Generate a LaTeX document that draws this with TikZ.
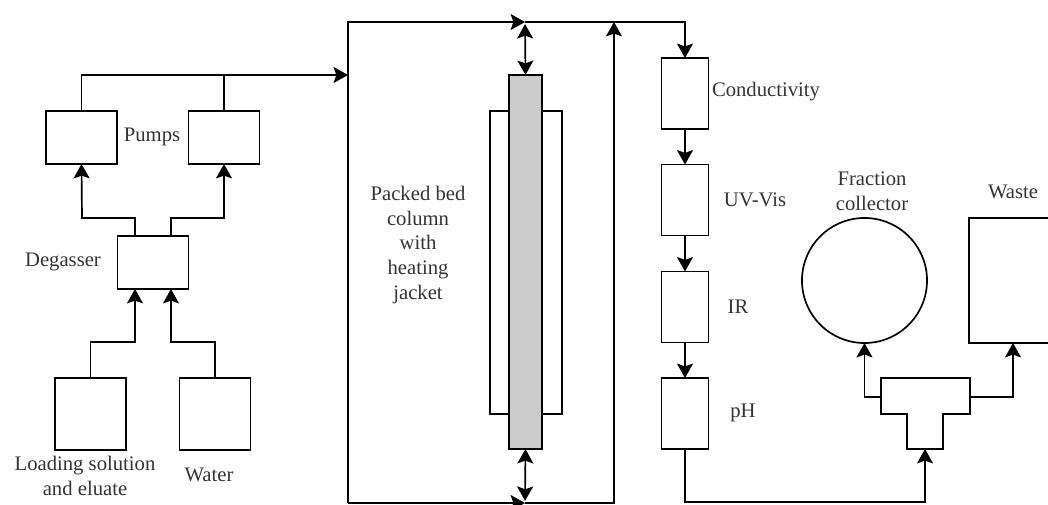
\documentclass[tikz,border=0pt]{standalone}
\usepackage{fontspec}
\setmainfont{Liberation Serif}
\usetikzlibrary{arrows.meta, positioning}
\definecolor{labeltext}{HTML}{333333}
\definecolor{colfill}{HTML}{CCCCCC}

\begin{document}
\begin{tikzpicture}[
      x=0.025cm, y=-0.025cm,
      every node/.style={text=labeltext, font=\fontsize{14.7}{17.7}\selectfont},
      box/.style={draw, line width=1.2pt, inner sep=0pt, outer sep=0pt},
      pump/.style={box, minimum width=1.775cm, minimum height=1.325cm},
      tank/.style={box, minimum width=1.775cm, minimum height=1.8cm},
      detector/.style={box, minimum width=1.175cm, minimum height=1.775cm},
      lbl/.style={align=center, inner sep=0pt},
      line/.style={line width=1.2pt},
      arr/.style={line, -{Stealth[length=3.6mm, width=4mm, inset=0.7mm]}},
      dbl/.style={line, {Stealth[length=3.6mm, width=4mm, inset=0.7mm]}-{Stealth[length=3.6mm, width=4mm, inset=0.7mm]}}
    ]
    \useasboundingbox (0,0) rectangle (1048,505);

    % feed side
    \node[pump] (pump1) at (81.5,137.5) {};
    \node[pump] (pump2) at (224,137.5) {};
    \node[pump] (degas) at (153,262.5) {};
    \node[tank] (load)  at (90.5,414) {};
    \node[tank] (water) at (215,414) {};
    \node[lbl] (lpumps) at (152,137) {Pumps};
    \node[lbl] (ldegas) at (63,262) {Degasser};
    \node[lbl] (lload)  at (85,476) {Loading solution\\and eluate};
    \node[lbl] (lwater) at (209,475) {Water};

    \coordinate (degl) at (135,289);
    \coordinate (degr) at (171,289);
    \draw[arr] (load.north) |- (135,342) -- (degl);
    \draw[arr] (water.north) |- (171,342) -- (degr);
    \draw[arr] (135,236) |- (82,218) -- (pump1.south);
    \draw[arr] (171,236) |- (224,218) -- (pump2.south);

    % column loop
    \coordinate (inlet)   at (348,75);
    \coordinate (tl)      at (348,22);
    \coordinate (bl)      at (348,503);
    \coordinate (topjoin) at (525,22);
    \coordinate (botjoin) at (525,503);
    \coordinate (tr)      at (614,22);
    \coordinate (br)      at (614,503);
    \draw[arr] (pump1.north) |- (inlet);
    \draw[line] (pump2.north) -- (pump2.north |- inlet);
    \draw[arr] (bl) -- (tl) -- (topjoin);
    \draw[arr] (bl) -- (botjoin);
    \draw[arr] (botjoin) -- (br) -- (tr);

    \node[box, minimum width=1.8cm, minimum height=7.575cm] (jacket) at (526,262.5) {};
    \node[box, fill=colfill, minimum width=0.825cm, minimum height=9.35cm] (column) at (525.5,262) {};
    \node[lbl] (lcolumn) at (418,245) {Packed bed\\column\\with\\heating\\jacket};
    \draw[dbl] (column.north) -- ([yshift=-1.5pt]topjoin);
    \draw[dbl] (column.south) -- ([yshift=1.5pt]botjoin);

    % detectors
    \node[detector] (cond) at (685,93.5) {};
    \node[detector] (uv)   at (685,200) {};
    \node[detector] (ir)   at (685,307) {};
    \node[detector] (ph)   at (685,413.5) {};
    \node[lbl] (lcond) at (766,92) {Conductivity};
    \node[lbl] (luv)   at (755,200) {UV-Vis};
    \node[lbl] (lir)   at (738,307) {IR};
    \node[lbl] (lph)   at (743,413) {pH};
    \draw[arr] (topjoin) -| (cond.north);
    \draw[arr] (cond) -- (uv);
    \draw[arr] (uv) -- (ir);
    \draw[arr] (ir) -- (ph);

    % outlet
    \node[box, circle, minimum size=3.125cm] (frac) at (864.5,280.5) {};
    \node[box, minimum width=2.2cm, minimum height=3.125cm] (waste) at (1013,280.5) {};
    \node[lbl] (lfrac)  at (872,191) {Fraction\\collector};
    \node[lbl] (lwaste) at (1013,192) {Waste};
    \draw[line] (881,378) -- (970,378) -- (970,414) -- (943,414) -- (943,449)
      -- (907,449) -- (907,414) -- (881,414) -- cycle;
    \coordinate (tleft)  at (881,397);
    \coordinate (tright) at (970,397);
    \coordinate (tbot)   at (925,449);
    \draw[arr] (ph.south) |- (925,502) -- (tbot);
    \draw[arr] (tleft) -| (frac.south);
    \draw[arr] (tright) -| (waste.south);
  \end{tikzpicture}
\end{document}
